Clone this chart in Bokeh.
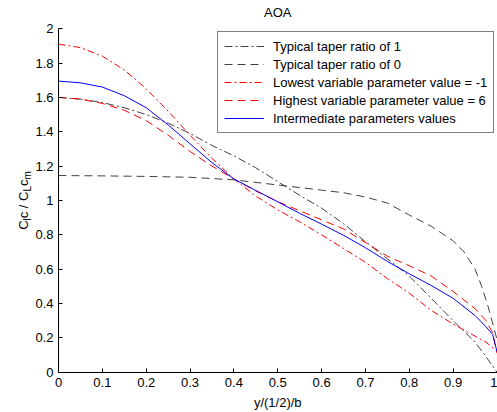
import math
from bokeh.plotting import figure
from bokeh.models import (Range1d, FixedTicker, CustomJSTickFormatter, Label,
                          Legend, LegendItem)
from bokeh.embed import file_html
from bokeh.resources import INLINE

# ---------------- data ----------------
x_ticks = [0, 0.1, 0.2, 0.3, 0.4, 0.5, 0.6, 0.7, 0.8, 0.9, 1.0]
y_ticks = [0, 0.2, 0.4, 0.6, 0.8, 1.0, 1.2, 1.4, 1.6, 1.8, 2.0]

taper1_x = [0, 0.05, 0.1, 0.15, 0.2, 0.25, 0.3, 0.35, 0.4, 0.45, 0.5, 0.55,
            0.6, 0.65, 0.7, 0.75, 0.8, 0.85, 0.9, 0.95, 0.975, 1.0]
taper1_y = [1.60, 1.59, 1.57, 1.54, 1.50, 1.45, 1.39, 1.32, 1.26, 1.19, 1.11,
            1.03, 0.955, 0.865, 0.76, 0.66, 0.56, 0.43, 0.30, 0.175, 0.09, 0.0]

taper0_x = [0, 0.1, 0.2, 0.3, 0.4, 0.5, 0.55, 0.6, 0.65, 0.7, 0.75, 0.8,
            0.85, 0.9, 0.925, 0.95, 0.965, 0.98, 1.0]
taper0_y = [1.145, 1.143, 1.14, 1.135, 1.12, 1.09, 1.075, 1.06, 1.045, 1.02,
            0.985, 0.915, 0.85, 0.765, 0.70, 0.60, 0.50, 0.38, 0.19]

lowest_x = [0, 0.05, 0.1, 0.15, 0.2, 0.25, 0.3, 0.35, 0.4, 0.45, 0.5, 0.55,
            0.6, 0.65, 0.7, 0.75, 0.8, 0.85, 0.9, 0.95, 0.975, 1.0]
lowest_y = [1.91, 1.89, 1.84, 1.76, 1.65, 1.52, 1.38, 1.245, 1.125, 1.025,
            0.945, 0.875, 0.80, 0.72, 0.64, 0.545, 0.46, 0.36, 0.28, 0.21,
            0.175, 0.12]

highest_x = [0, 0.05, 0.1, 0.15, 0.2, 0.25, 0.3, 0.35, 0.4, 0.45, 0.5, 0.55,
             0.6, 0.65, 0.7, 0.75, 0.8, 0.85, 0.9, 0.95, 0.975, 0.99, 1.0]
highest_y = [1.60, 1.59, 1.565, 1.525, 1.465, 1.38, 1.285, 1.20, 1.125, 1.055,
             0.993, 0.94, 0.887, 0.834, 0.755, 0.675, 0.62, 0.56, 0.47, 0.37,
             0.30, 0.23, 0.11]

inter_x = [0, 0.05, 0.1, 0.15, 0.2, 0.25, 0.3, 0.35, 0.4, 0.45, 0.5, 0.55,
           0.6, 0.65, 0.7, 0.75, 0.8, 0.85, 0.9, 0.95, 0.975, 0.99, 1.0]
inter_y = [1.695, 1.685, 1.66, 1.61, 1.54, 1.44, 1.33, 1.22, 1.125, 1.058,
           0.992, 0.925, 0.862, 0.797, 0.725, 0.645, 0.573, 0.505, 0.43, 0.33,
           0.264, 0.22, 0.12]

labels = ["Typical taper ratio of 1",
          "Typical taper ratio of 0",
          "Lowest variable parameter value = -1",
          "Highest variable parameter value = 6",
          "Intermediate parameters values"]
title_text = "AOA"
xlabel_text = "y/(1/2)/b"

FONT = "Liberation Sans"

# ---------------- figure ----------------
# The frame covers the whole canvas; the axes are drawn at fixed data
# locations (x=0, y=0) so that every text annotation lies inside the frame.
W, H = 497, 412
left_px, right_px = 58.0, 496.5      # screen x of data x=0 and x=1
top_px, bottom_px = 28.2, 371.7      # screen y of data y=2 and y=0
sx = (right_px - left_px) / 1.0
sy = (bottom_px - top_px) / 2.0
x0 = -left_px / sx
x1 = x0 + W / sx
y1 = 2.0 + top_px / sy
y0 = y1 - H / sy

p = figure(width=W, height=H, output_backend="svg", toolbar_location=None,
           title=None, x_range=Range1d(x0, x1), y_range=Range1d(y0, y1),
           min_border=0, min_border_left=0, min_border_right=0,
           min_border_top=0, min_border_bottom=0)
p.background_fill_color = "white"
p.border_fill_color = "white"
p.outline_line_color = None
p.xgrid.visible = False
p.ygrid.visible = False

fmt = "return String(Number(tick.toFixed(1)));"
for ax, ticks, bnds in ((p.xaxis, x_ticks, (0, 1)), (p.yaxis, y_ticks, (0, 2))):
    ax.fixed_location = 0
    ax.bounds = bnds
    ax.ticker = FixedTicker(ticks=ticks)
    ax.formatter = CustomJSTickFormatter(code=fmt)
    ax.axis_line_color = "black"
    ax.major_tick_line_color = "black"
    ax.major_tick_in = 4
    ax.major_tick_out = 0
    ax.minor_tick_line_color = None
    ax.major_label_text_font = FONT
    ax.major_label_text_font_size = "13px"
    ax.major_label_text_color = "black"

p.xaxis.major_label_standoff = 6
p.yaxis.major_label_standoff = 5

gray = "#404040"
r1 = p.line(taper1_x, taper1_y, line_color=gray, line_width=1, line_dash="8 3 2 3")
r2 = p.line(taper0_x, taper0_y, line_color=gray, line_width=1, line_dash="8 5")
r3 = p.line(lowest_x, lowest_y, line_color="#ff0000", line_width=1, line_dash="7 3 2 3")
r4 = p.line(highest_x, highest_y, line_color="#ff0000", line_width=1, line_dash="8 5")
r5 = p.line(inter_x, inter_y, line_color="#0000ff", line_width=1)

legend = Legend(items=[LegendItem(label=l, renderers=[r])
                       for l, r in zip(labels, [r1, r2, r3, r4, r5])],
                location=(217, H - 133), padding=6, spacing=2,
                glyph_width=40, glyph_height=16, label_height=16,
                label_standoff=9, label_text_font=FONT,
                label_text_font_size="13px", label_text_color="black",
                border_line_color="black", border_line_width=1,
                background_fill_color="white", background_fill_alpha=1.0)
p.add_layout(legend)

# title
p.add_layout(Label(x=0.5, y=2.0, y_offset=16, text=title_text, text_align="center",
                   text_baseline="middle", text_font=FONT,
                   text_font_size="13px", text_color="black"))

# x label
p.add_layout(Label(x=0.5, y=0.0, y_offset=-30, text=xlabel_text, text_align="center",
                   text_baseline="middle", text_font=FONT,
                   text_font_size="13px", text_color="black"))

# rotated y label with subscripts: C_l c / C_L c_m
main_size, sub_size = "13px", "10px"
pieces = [("C", 0.0, False), ("l", 9.4, True), ("c / C", 11.6, False),
          ("L", 38.3, True), ("c", 43.9, False), ("m", 50.4, True)]
start = -29.4
for txt, s, sub in pieces:
    p.add_layout(Label(x=0, y=1.0, x_offset=(-31 if sub else -35),
                       y_offset=start + s, text=txt, angle=math.pi / 2,
                       text_align="left", text_baseline="alphabetic",
                       text_font=FONT,
                       text_font_size=(sub_size if sub else main_size),
                       text_color="black"))

open("out.html", "w").write(file_html(p, INLINE))
